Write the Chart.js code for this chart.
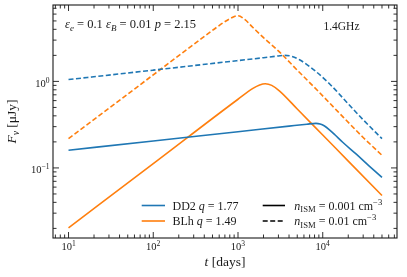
<!DOCTYPE html>
<html><head><meta charset="utf-8">
<script src="https://cdn.jsdelivr.net/npm/chart.js@4"></script>
<style>html,body{margin:0;padding:0;background:#fff}#wrap{width:407px;height:277px}</style>
</head><body><div id="wrap"><canvas id="c" width="407" height="277"></canvas></div>
<script>
// ---- data (t in days, F in microJy) ----
const tDD2Low = [10, 100, 1000, 4000, 6500, 8300, 9300, 10500, 12000, 14000, 17200, 24700, 35400, 50000];
const fDD2Low = [0.160, 0.205, 0.262, 0.304, 0.320, 0.327, 0.322, 0.305, 0.276, 0.240, 0.198, 0.145, 0.105, 0.0777];
const tDD2High = [10, 100, 1050, 2000, 3000, 3540, 4300, 5320, 8000, 12000, 20000, 30000, 50000];
const fDD2High = [1.05, 1.35, 1.75, 1.88, 1.97, 2.0, 1.95, 1.78, 1.34, 0.94, 0.55, 0.36, 0.218];
const tBLhLow = [10, 100, 1000, 1500, 1800, 2100, 2500, 3100, 5000, 10000, 20000, 50000];
const fBLhLow = [0.0203, 0.112, 0.622, 0.83, 0.91, 0.94, 0.90, 0.773, 0.48, 0.24, 0.12, 0.048];
const tBLhHigh = [10, 100, 300, 557, 800, 1000, 1200, 1500, 2000, 3100, 5000, 8730, 15000, 30000, 50000];
const fBLhHigh = [0.218, 1.19, 2.67, 4.2, 5.3, 5.75, 5.2, 4.2, 3.2, 2.18, 1.35, 0.78, 0.45, 0.225, 0.14];
const xTickValues = [10, 100, 1000, 10000];
const xTickExps = ['1', '2', '3', '4'];
const yTickValues = [0.1, 1];
const yTickExps = ['\u22121', '0'];
const seriesNames = ['DD2', 'BLh'];
const seriesQ = ['1.77', '1.49'];
const densities = ['0.001', '0.01'];

const BLUE = '#1f77b4', ORANGE = '#ff7f0e', INK = '#1a1a1a';
const FONT = '"Liberation Serif", "DejaVu Serif", serif';
const pts = (t, f) => t.map((v, i) => ({x: v, y: f[i]}));
const common = {pointRadius: 0, borderWidth: 1.6, fill: false, cubicInterpolationMode: 'monotone'};

function rich(ctx, segs, x, y, size, align) {
  const parts = segs.map(s => {
    const sz = (s.sub || s.sup) ? size * 0.72 : size;
    const f = (s.it ? 'italic ' : '') + sz + 'px ' + FONT;
    ctx.font = f;
    return {s, f, w: ctx.measureText(s.t).width, dy: s.sub ? size * 0.22 : (s.sup ? -size * 0.38 : 0)};
  });
  const W = parts.reduce((a, p) => a + p.w, 0);
  let cx = align === 'center' ? x - W / 2 : (align === 'right' ? x - W : x);
  ctx.textAlign = 'left';
  parts.forEach(p => { ctx.font = p.f; ctx.fillText(p.s.t, cx, y + p.dy); cx += p.w; });
  return W;
}

const mpl = {
  id: 'mpl',
  afterDraw(chart) {
    const ctx = chart.ctx, a = chart.chartArea, xs = chart.scales.x, ys = chart.scales.y;
    ctx.save();
    ctx.strokeStyle = INK; ctx.fillStyle = INK; ctx.lineWidth = 0.9;
    const each = (scale, cb) => {
      const lo = Math.floor(Math.log10(scale.min)), hi = Math.ceil(Math.log10(scale.max));
      for (let d = lo; d <= hi; d++) for (let m = 1; m <= 9; m++) {
        const v = m * Math.pow(10, d);
        if (v < scale.min || v > scale.max) continue;
        cb(scale.getPixelForValue(v), m === 1);
      }
    };
    ctx.beginPath();
    each(xs, (px, maj) => { const L = maj ? 6 : 3.5;
      ctx.moveTo(px, a.bottom); ctx.lineTo(px, a.bottom - L);
      ctx.moveTo(px, a.top); ctx.lineTo(px, a.top + L); });
    each(ys, (py, maj) => { const L = maj ? 6 : 3.5;
      ctx.moveTo(a.left, py); ctx.lineTo(a.left + L, py);
      ctx.moveTo(a.right, py); ctx.lineTo(a.right - L, py); });
    ctx.stroke();
    ctx.lineWidth = 1.1;
    ctx.strokeRect(a.left, a.top, a.right - a.left, a.bottom - a.top);

    ctx.textBaseline = 'alphabetic';
    // tick labels
    xTickValues.forEach((v, i) => {
      const px = xs.getPixelForValue(v);
      rich(ctx, [{t: '10'}, {t: xTickExps[i], sup: true}], px, 250.3, 10.5, 'center');
    });
    yTickValues.forEach((v, i) => {
      const py = ys.getPixelForValue(v);
      rich(ctx, [{t: '10'}, {t: yTickExps[i], sup: true}], 49.5, py + 5.3, 10.5, 'right');
    });
    // axis labels
    rich(ctx, [{t: 't', it: true}, {t: ' [days]'}], (a.left + a.right) / 2, 266, 13.5, 'center');
    ctx.save();
    ctx.translate(16, (a.top + a.bottom) / 2);
    ctx.rotate(-Math.PI / 2);
    rich(ctx, [{t: 'F', it: true}, {t: '\u03bd', it: true, sub: true}, {t: ' [\u03bcJy]'}], 0, 0, 13.5, 'center');
    ctx.restore();
    // annotations
    rich(ctx, [{t: '\u03b5', it: true}, {t: 'e', it: true, sub: true}, {t: ' = 0.1 '},
               {t: '\u03b5', it: true}, {t: 'B', it: true, sub: true}, {t: ' = 0.01 '},
               {t: 'p', it: true}, {t: ' = 2.15'}], 65, 28.3, 12.5, 'left');
    rich(ctx, [{t: '1.4GHz'}], 359.5, 30, 11.5, 'right');
    // legend
    const rows = [205.5, 221];
    const drawLine = (x0, x1, y, color, dash) => {
      ctx.save(); ctx.strokeStyle = color; ctx.lineWidth = 1.6; ctx.setLineDash(dash);
      ctx.beginPath(); ctx.moveTo(x0, y); ctx.lineTo(x1, y); ctx.stroke(); ctx.restore();
    };
    [BLUE, ORANGE].forEach((c, i) => {
      drawLine(141.7, 165, rows[i], c, []);
      rich(ctx, [{t: seriesNames[i] + ' '}, {t: 'q', it: true}, {t: ' = ' + seriesQ[i]}], 172.5, rows[i] + 4, 12, 'left');
    });
    [[], [5, 2.5]].forEach((d, i) => {
      drawLine(262.7, 285, rows[i], '#000', d);
      rich(ctx, [{t: 'n', it: true}, {t: 'ISM', sub: true}, {t: ' = ' + densities[i] + ' cm'}, {t: '\u22123', sup: true}], 294.3, rows[i] + 4, 12, 'left');
    });
    ctx.restore();
  }
};

new Chart(document.getElementById('c'), {
  type: 'line',
  data: {datasets: [
    Object.assign({label: 'DD2 0.001', data: pts(tDD2Low, fDD2Low), borderColor: BLUE}, common),
    Object.assign({label: 'DD2 0.01', data: pts(tDD2High, fDD2High), borderColor: BLUE, borderDash: [5, 2.5]}, common),
    Object.assign({label: 'BLh 0.001', data: pts(tBLhLow, fBLhLow), borderColor: ORANGE}, common),
    Object.assign({label: 'BLh 0.01', data: pts(tBLhHigh, fBLhHigh), borderColor: ORANGE, borderDash: [5, 2.5]}, common)
  ]},
  options: {
    responsive: false, animation: false, devicePixelRatio: 1,
    layout: {padding: {top: 5, right: 10, left: 0, bottom: 0}},
    plugins: {legend: {display: false}, tooltip: {enabled: false}},
    scales: {
      x: {type: 'logarithmic', min: 6.56, max: 75200,
          ticks: {display: false}, grid: {display: false}, border: {display: false},
          afterFit: s => { s.height = 39; }},
      y: {type: 'logarithmic', min: 0.01549, max: 7.64,
          ticks: {display: false}, grid: {display: false}, border: {display: false},
          afterFit: s => { s.width = 53; }}
    }
  },
  plugins: [mpl]
});
</script></body></html>
